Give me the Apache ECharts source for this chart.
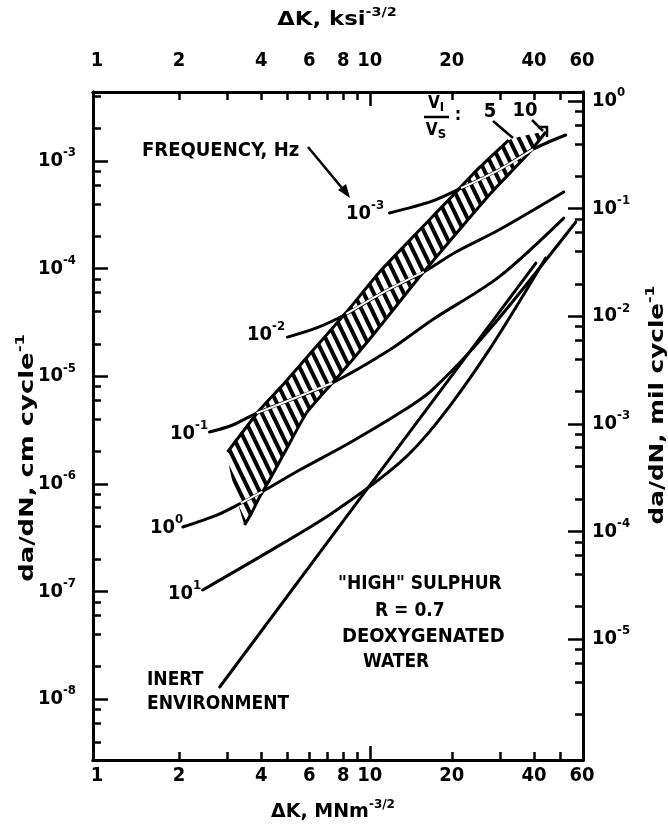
<!DOCTYPE html>
<html>
<head>
<meta charset="utf-8">
<script src="https://cdn.jsdelivr.net/npm/echarts@6/dist/echarts.min.js"></script>
<style>
  html, body { margin: 0; padding: 0; background: #fff; }
  #chart { width: 668px; height: 834px; }
</style>
</head>
<body>
<div id="chart"></div>
<script>
// Fatigue crack growth rate vs stress-intensity range,
// "high" sulphur steel, R = 0.7, deoxygenated water.
// ΔK in MN m^-3/2, da/dN in cm/cycle.

const X_RANGE = [0.967, 60.5];
const Y_RANGE = [2.71e-9, 4.38e-3];      // cm / cycle
const Y_RANGE_MIL = [7.5e-7, 1.212];     // mil / cycle

// axis ticks and labels
const xLabels = [1, 2, 4, 6, 8, 10, 20, 40, 60];
const xMinorTicks = [2, 3, 4, 5, 6, 7, 8, 9, 20, 30, 40, 50];
const xMajorTicks = [10];
const yDecadesCm = [1e-8, 1e-7, 1e-6, 1e-5, 1e-4, 1e-3];
const yDecadesMil = [1e-5, 1e-4, 1e-3, 1e-2, 1e-1, 1];
const minorMultipliers = [2, 4, 6, 8];

// band of V_I/V_S = 5 (upper edge) to 10 (lower edge)
const bandUpper = [[3.011, 1.974e-6], [3.946, 4.85e-6], [4.87, 8.65e-6], [6.16, 1.715e-5], [8.201, 3.924e-5],
  [10.86, 9.31e-5], [14.27, 1.925e-4], [18.99, 4.08e-4], [25.10, 8.58e-4], [32.32, 1.567e-3]];
const bandLower = [[3.476, 4.14e-7], [3.688, 5.35e-7], [3.945, 7.54e-7], [4.291, 1.085e-6], [4.952, 2.105e-6],
  [5.861, 4.55e-6], [7.294, 8.65e-6], [8.630, 1.415e-5], [10.21, 2.364e-5], [12.09, 4.035e-5],
  [14.79, 7.67e-5], [16.92, 1.151e-4], [22.53, 2.71e-4], [28.04, 5.15e-4], [38.30, 1.186e-3], [44.20, 1.86e-3]];

// frequency curves (Hz)
const freq1em3 = [[11.81, 3.29e-4], [16.92, 4.24e-4], [21.63, 5.61e-4], [29.70, 8.25e-4], [39.71, 1.288e-3],
  [52.26, 1.745e-3]];
const freq1em2 = [[4.991, 2.31e-5], [6.387, 2.81e-5], [8.201, 3.79e-5], [11.29, 6.08e-5], [15.79, 9.31e-5],
  [20.69, 1.426e-4], [29.70, 2.286e-4], [51.43, 5.16e-4]];
const freq1em1 = [[2.586, 3.03e-6], [3.146, 3.52e-6], [3.848, 4.54e-6], [5.298, 6.24e-6], [7.294, 8.65e-6],
  [11.81, 1.749e-5], [16.92, 3.33e-5], [29.70, 8.34e-5], [51.43, 2.95e-4]];
const freq1e0 = [[2.063, 3.97e-7], [2.750, 5.11e-7], [3.367, 6.60e-7], [4.040, 8.47e-7], [5.529, 1.343e-6],
  [8.420, 2.397e-6], [12.85, 4.54e-6], [16.92, 7.44e-6], [27.36, 2.68e-5], [56.93, 2.71e-4]];
const freq1e1 = [[2.441, 1.031e-7], [4.186, 2.28e-7], [7.294, 5.36e-7], [12.85, 1.562e-6], [17.96, 3.93e-6],
  [27.36, 1.749e-5], [44.18, 1.256e-4]];
const inertEnv = [[2.818, 1.292e-8], [9.723, 8.77e-7], [40.64, 1.125e-4]];

// ΔK span where each frequency curve runs through the hatched band
const cross1em3 = [21.63, 39.71];
const cross1em2 = [8.201, 15.79];
const cross1em1 = [3.848, 7.294];
const cross1e0 = [3.367, 4.040];

const FONT = '"Liberation Sans Narrow", "DejaVu Sans Condensed", "Roboto Condensed", "DejaVu Sans", sans-serif';
const TITLE_FONT = '"DejaVu Sans", "Liberation Sans", sans-serif';
const INK = '#000';

function decadeTicks(decades, range) {
  const out = [];
  decades.concat([decades[decades.length - 1] * 10]).forEach(function (d) {
    minorMultipliers.forEach(function (m) {
      const v = d * m / 10;
      if (v > range[0] && v < range[1]) out.push(v);
    });
  });
  return out;
}

function supLabel(v) {
  const e = Math.round(Math.log10(v));
  return '{b|10}{s|' + (e < 0 ? '-' + (-e) : e) + '}';
}

const rich = {
  b: { fontSize: 20, fontWeight: 'bold', fontFamily: FONT, color: INK },
  s: { fontSize: 13, fontWeight: 'bold', fontFamily: FONT, color: INK, padding: [0, 0, 16, 0] }
};

function hatchPattern() {
  const c = document.createElement('canvas');
  c.width = 9; c.height = 9;
  const g = c.getContext('2d');
  g.fillStyle = '#fff';
  g.fillRect(0, 0, 9, 9);
  g.fillStyle = '#000';
  g.fillRect(0, 0, 4, 9);
  return { image: c, repeat: 'repeat', rotation: -0.45 };
}

function makeAxis(pos, range, ticks, tickLen, labels, labelOpts) {
  const ax = {
    type: 'log', logBase: 10, position: pos, min: range[0], max: range[1],
    axisLine: { show: true, onZero: false, lineStyle: { color: INK, width: 3 } },
    splitLine: { show: false },
    minorTick: { show: false },
    axisPointer: { show: false },
    axisTick: { show: true, inside: true, length: tickLen, customValues: ticks,
      lineStyle: { color: INK, width: 2.5 } }
  };
  if (labels) {
    ax.axisLabel = Object.assign({ show: true, customValues: labels, color: INK,
      fontSize: 20, fontWeight: 'bold', fontFamily: FONT, showMinLabel: true, showMaxLabel: true }, labelOpts || {});
  } else {
    ax.axisLabel = { show: false };
  }
  return ax;
}

const xFmt = { formatter: function (v) { return String(Math.round(v)); } };

const xAxes = [
  makeAxis('bottom', X_RANGE, xMinorTicks, 8, xLabels, Object.assign({ margin: 6 }, xFmt)),
  makeAxis('bottom', X_RANGE, xMajorTicks, 14, null),
  makeAxis('top', X_RANGE, xMinorTicks, 8, xLabels, Object.assign({ margin: 21 }, xFmt)),
  makeAxis('top', X_RANGE, xMajorTicks, 14, null)
];
const yAxes = [
  makeAxis('left', Y_RANGE, decadeTicks(yDecadesCm, Y_RANGE), 8, yDecadesCm,
    { formatter: supLabel, rich: rich, margin: 17 }),
  makeAxis('left', Y_RANGE, yDecadesCm, 15, null),
  makeAxis('right', Y_RANGE_MIL, decadeTicks(yDecadesMil, Y_RANGE_MIL), 8, yDecadesMil,
    { formatter: supLabel, rich: rich, margin: 9 }),
  makeAxis('right', Y_RANGE_MIL, yDecadesMil, 15, null)
];

function within(curve, span) {
  return curve.filter(function (p) { return p[0] >= span[0] - 1e-9 && p[0] <= span[1] + 1e-9; });
}

function curveSeries(name, data, smooth) {
  return { name: name, type: 'line', xAxisIndex: 0, yAxisIndex: 0, data: data, smooth: smooth,
    showSymbol: false, symbol: 'none', z: 4, silent: true,
    lineStyle: { color: INK, width: 3, cap: 'round', join: 'round' } };
}
function gapSeries(name, data) {
  return { name: name, type: 'line', xAxisIndex: 0, yAxisIndex: 0, data: data, smooth: 0.3,
    showSymbol: false, symbol: 'none', z: 5, silent: true,
    lineStyle: { color: '#fff', width: 2 } };
}

const hatch = hatchPattern();

const bandSeries = {
  name: 'band', type: 'custom', xAxisIndex: 0, yAxisIndex: 0, silent: true, z: 3,
  data: [[10, 1e-5]],
  renderItem: function (params, api) {
    const up = bandUpper.map(function (p) { return api.coord(p); });
    const lo = bandLower.map(function (p) { return api.coord(p); });
    return {
      type: 'group',
      children: [
        { type: 'polygon', shape: { points: up.concat(lo.slice().reverse()), smooth: 0.15 },
          style: { fill: hatch, stroke: null } },
        { type: 'polyline', shape: { points: up, smooth: 0.15 },
          style: { fill: null, stroke: INK, lineWidth: 3 } },
        { type: 'polyline', shape: { points: lo, smooth: 0.15 },
          style: { fill: null, stroke: INK, lineWidth: 3 } }
      ]
    };
  }
};

function txt(x, y, text, size, align, extra) {
  return Object.assign({ type: 'text', x: x, y: y, silent: true, z: 10,
    style: { text: text, fill: INK, font: 'bold ' + (size || 20) + 'px ' + FONT,
      align: align || 'left', textAlign: align || 'left', verticalAlign: 'middle', textVerticalAlign: 'middle' } },
    extra || {});
}
function richTxt(x, y, text, align, extra) {
  return Object.assign({ type: 'text', x: x, y: y, silent: true, z: 10,
    style: { text: text, rich: rich, fill: INK, font: 'bold 20px ' + FONT,
      align: align || 'left', textAlign: align || 'left', verticalAlign: 'middle', textVerticalAlign: 'middle' } },
    extra || {});
}
function seg(points, w) {
  return { type: 'polyline', silent: true, z: 10, shape: { points: points },
    style: { stroke: INK, lineWidth: w || 2.5, fill: null } };
}

const titleRich = {
  t: { fontSize: 19, fontWeight: 'bold', fontFamily: TITLE_FONT, color: INK },
  u: { fontSize: 12, fontWeight: 'bold', fontFamily: TITLE_FONT, color: INK, padding: [0, 0, 15, 0] }
};
// axis titles, stretched along the reading direction to the wide lettering
function titleTxt(x, y, text, rot, stretch) {
  return { type: 'text', x: x, y: y, rotation: rot || 0, scaleX: stretch || 1, silent: true, z: 10,
    style: { text: text, rich: titleRich, fill: INK, font: 'bold 19px ' + TITLE_FONT,
      align: 'center', textAlign: 'center', verticalAlign: 'middle', textVerticalAlign: 'middle' } };
}

const graphics = [
  titleTxt(337, 20, '{t|ΔK, ksi}{u|-3/2}', 0, 1.2),
  titleTxt(333, 812, '{t|ΔK, MNm}{u|-3/2}', 0, 1.0),
  titleTxt(28, 458, '{t|da/dN, cm cycle}{u|-1}', Math.PI / 2, 1.36),
  titleTxt(658, 405, '{t|da/dN, mil cycle}{u|-1}', Math.PI / 2, 1.3),

  txt(142, 151, 'FREQUENCY, Hz', 20),
  seg([[308, 147], [347, 194]], 2.5),
  { type: 'polygon', silent: true, z: 10, shape: { points: [[350, 198], [338, 190], [346, 184]] },
    style: { fill: INK } },

  richTxt(346, 214, '{b|10}{s|-3}'),
  richTxt(247, 335, '{b|10}{s|-2}'),
  richTxt(170, 434, '{b|10}{s|-1}'),
  richTxt(150, 528, '{b|10}{s|0}'),
  richTxt(168, 594, '{b|10}{s|1}'),

  txt(147, 680, 'INERT', 19),
  txt(147, 704, 'ENVIRONMENT', 19),

  txt(338, 584, '"HIGH" SULPHUR', 19),
  txt(375, 611, 'R = 0.7', 19),
  txt(342, 637, 'DEOXYGENATED', 20),
  txt(363, 662, 'WATER', 19),

  // velocity-ratio key at the top of the band
  { type: 'text', x: 436, y: 104, silent: true, z: 10,
    style: { text: '{v|V}{i|I}', rich: { v: { fontSize: 17, fontWeight: 'bold', fontFamily: FONT },
      i: { fontSize: 13, fontWeight: 'bold', fontFamily: FONT, padding: [8, 0, 0, 0] } },
      align: 'center', textAlign: 'center', verticalAlign: 'middle', textVerticalAlign: 'middle' } },
  seg([[424, 117], [449, 117]], 2.5),
  { type: 'text', x: 436, y: 131, silent: true, z: 10,
    style: { text: '{v|V}{i|S}', rich: { v: { fontSize: 17, fontWeight: 'bold', fontFamily: FONT },
      i: { fontSize: 13, fontWeight: 'bold', fontFamily: FONT, padding: [8, 0, 0, 0] } },
      align: 'center', textAlign: 'center', verticalAlign: 'middle', textVerticalAlign: 'middle' } },
  txt(458, 115, ':', 18, 'center'),
  txt(490, 112, '5', 20, 'center'),
  txt(525, 111, '10', 20, 'center'),
  seg([[493, 121], [513, 138]], 2.5),
  seg([[532, 120], [543, 131]], 2.5),
  seg([[538, 127], [547, 127], [547, 137]], 2.5)
];

const chart = echarts.init(document.getElementById('chart'), null, { renderer: 'canvas' });
chart.setOption({
  animation: false,
  backgroundColor: '#fff',
  grid: { left: 93, right: 85, top: 92, bottom: 74, outerBoundsMode: 'none', containLabel: false },
  xAxis: xAxes,
  yAxis: yAxes,
  series: [
    bandSeries,
    curveSeries('1e-3 Hz', freq1em3, 0.3),
    curveSeries('1e-2 Hz', freq1em2, 0.3),
    curveSeries('1e-1 Hz', freq1em1, 0.3),
    curveSeries('1e0 Hz', freq1e0, 0.3),
    curveSeries('1e1 Hz', freq1e1, 0.3),
    curveSeries('inert', inertEnv, false),
    gapSeries('1e-3 Hz in band', within(freq1em3, cross1em3)),
    gapSeries('1e-2 Hz in band', within(freq1em2, cross1em2)),
    gapSeries('1e-1 Hz in band', within(freq1em1, cross1em1)),
    gapSeries('1e0 Hz in band', within(freq1e0, cross1e0))
  ],
  graphic: graphics
});
</script>
</body>
</html>
